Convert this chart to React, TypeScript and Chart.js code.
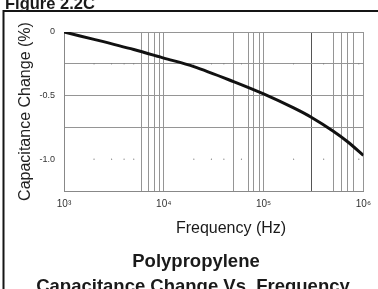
import { useEffect, useRef } from "react";
import { Chart, registerables } from "chart.js";

Chart.register(...registerables);

// Data
const frequencies = [1e3, 2e3, 5e3, 1e4, 2e4, 5e4, 1e5, 2e5, 3e5, 5e5, 7e5, 1e6];
const capChange = [0, -0.058, -0.138, -0.205, -0.272, -0.39, -0.487, -0.597, -0.67, -0.78, -0.865, -0.97];

// Grid / tick structure
const xGridValues = [1e3, 6e3, 7e3, 8e3, 9e3, 1e4, 5e4, 7e4, 8e4, 9e4, 1e5, 3e5, 5e5, 6e5, 7e5, 8e5, 1e6];
const xTickLabels: Record<string, string> = { "1000": "10³", "10000": "10⁴", "100000": "10⁵", "1000000": "10⁶" };
const yGridValues = [0, -0.25, -0.5, -0.75, -1.0, -1.25];
const yTickLabels: Record<string, string> = { "0": "0", "-0.5": "-0.5", "-1": "-1.0" };
const minorFreqs = [2e3, 3e3, 4e3, 5e3, 2e4, 3e4, 4e4, 6e4, 2e5, 4e5, 9e5];
const minorRows = [-0.25, -1.0];

const FONT = "'Liberation Sans', Arial, Helvetica, sans-serif";

const decor = {
  id: "decor",
  beforeDraw(chart: any) {
    const ctx = chart.ctx;
    ctx.save();
    ctx.fillStyle = "#ffffff";
    ctx.fillRect(0, 0, chart.width, chart.height);
    ctx.strokeStyle = "#151515";
    ctx.lineWidth = 2;
    ctx.beginPath();
    ctx.moveTo(3.5, chart.height);
    ctx.lineTo(3.5, 11);
    ctx.lineTo(chart.width, 11);
    ctx.stroke();
    ctx.restore();
  },
  afterDraw(chart: any) {
    const ctx = chart.ctx;
    ctx.save();
    ctx.fillStyle = "#1a1a1a";
    ctx.textBaseline = "alphabetic";
    ctx.textAlign = "left";
    ctx.font = `bold 16.5px ${FONT}`;
    ctx.fillText("Figure 2.2C", 5, 9);
    ctx.textAlign = "center";
    ctx.font = `16px ${FONT}`;
    ctx.fillText("Frequency (Hz)", 231, 233);
    ctx.font = `bold 18.5px ${FONT}`;
    ctx.fillText("Polypropylene", 196, 267);
    ctx.fillText("Capacitance Change Vs. Frequency", 193, 292);
    ctx.restore();
  },
};

export default function App() {
  const ref = useRef<HTMLCanvasElement>(null);
  useEffect(() => {
    if (!ref.current) return;
    const minorPoints: { x: number; y: number }[] = [];
    minorRows.forEach((r) => minorFreqs.forEach((f) => minorPoints.push({ x: f, y: r })));
    const chart = new Chart(ref.current, {
      type: "line",
      data: {
        datasets: [
          {
            label: "Capacitance change",
            data: frequencies.map((f, i) => ({ x: f, y: capChange[i] })),
            borderColor: "#111111",
            borderWidth: 3,
            pointRadius: 0,
            tension: 0.3,
            fill: false,
          },
          {
            label: "minor",
            data: minorPoints,
            showLine: false,
            pointRadius: 0.6,
            pointBorderWidth: 0,
            pointBackgroundColor: "#777777",
          },
        ],
      },
      options: {
        animation: false,
        responsive: false,
        maintainAspectRatio: false,
        layout: { padding: { top: 32, right: 9, left: 0, bottom: 0 } },
        plugins: { legend: { display: false }, tooltip: { enabled: false }, title: { display: false } },
        scales: {
          x: {
            type: "logarithmic",
            min: 1e3,
            max: 1e6,
            afterBuildTicks: (scale: any) => {
              scale.ticks = xGridValues.map((v) => ({ value: v }));
            },
            afterFit: (scale: any) => {
              scale.height = 98;
            },
            ticks: {
              autoSkip: false,
              maxRotation: 0,
              padding: 7,
              color: "#333333",
              font: { family: FONT, size: 10 },
              callback: (v: any) => xTickLabels[String(Math.round(Number(v)))] ?? "",
            },
            grid: {
              drawTicks: false,
              color: (c: any) => (c.tick && Math.round(c.tick.value) === 300000 ? "#555555" : "#959595"),
              lineWidth: 1,
            },
            border: { display: true, color: "#888888", width: 1 },
          },
          y: {
            type: "linear",
            min: -1.25,
            max: 0,
            afterBuildTicks: (scale: any) => {
              scale.ticks = yGridValues.map((v) => ({ value: v }));
            },
            afterFit: (scale: any) => {
              scale.width = 64;
            },
            ticks: {
              autoSkip: false,
              padding: 9,
              color: "#333333",
              font: { family: FONT, size: 9 },
              callback: (v: any) => yTickLabels[String(Math.round(Number(v) * 100) / 100)] ?? "",
            },
            grid: {
              drawTicks: false,
              color: (c: any) => (c.tick && Math.abs(c.tick.value + 1) < 1e-6 ? "rgba(0,0,0,0)" : "#959595"),
              lineWidth: 1,
            },
            border: { display: true, color: "#888888", width: 1 },
            title: {
              display: true,
              text: "Capacitance Change (%)",
              color: "#222222",
              font: { family: FONT, size: 16 },
              padding: { top: 15.5, bottom: 0 },
            },
          },
        },
      },
      plugins: [decor],
    } as any);
    return () => chart.destroy();
  }, []);
  return (
    <div style={{ position: "fixed", left: 0, top: 0, width: 378, height: 289 }}>
      <canvas ref={ref} width={378} height={289} />
    </div>
  );
}
